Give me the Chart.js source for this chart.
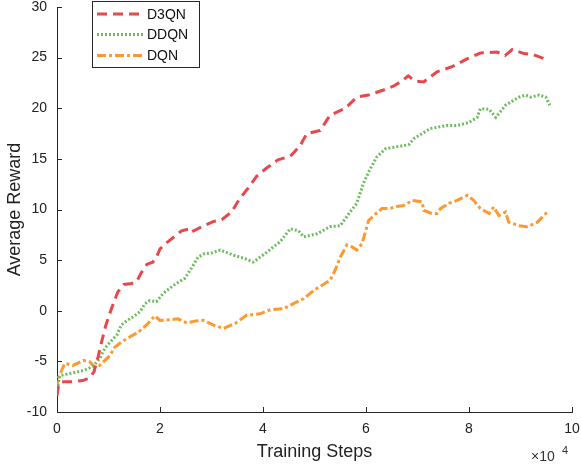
<!DOCTYPE html>
<html>
<head>
<meta charset="utf-8">
<script src="https://cdn.jsdelivr.net/npm/chart.js@4/dist/chart.umd.min.js"></script>
<style>
  html, body { margin: 0; padding: 0; background: #fff; }
  #wrap { width: 581px; height: 465px; }
</style>
</head>
<body>
<div id="wrap"><canvas id="chart1" width="581" height="465"></canvas></div>
<script>
// training steps in units of 1e4, reward
var d3qnX = [0, 0.02, 0.08, 0.3, 0.5, 0.64, 0.72, 0.8, 0.87, 0.95, 1.06, 1.18, 1.3, 1.45, 1.55, 1.63, 1.75, 1.86, 1.93, 2.0,
  2.1, 2.2, 2.42, 2.58, 2.62, 2.81, 3.03, 3.2, 3.39, 3.55, 3.71, 3.88, 4.07, 4.29, 4.49, 4.56, 4.72, 4.85, 5.11, 5.3,
  5.6, 5.82, 6.05, 6.34, 6.54, 6.7, 6.82, 6.95, 7.12, 7.38, 7.67, 7.97, 8.22, 8.55, 8.7, 8.84, 9.07, 9.25, 9.46];
var d3qnY = [-8.4, -7.6, -7.0, -7.0, -6.9, -6.6, -6.0, -4.5, -3.0, -1.4, 0.25, 1.85, 2.6, 2.7, 2.9, 3.7, 4.6, 4.8, 5.3, 6.1,
  6.6, 7.0, 7.9, 8.1, 7.8, 8.3, 8.8, 9.0, 9.75, 11.1, 12.1, 13.3, 14.1, 14.9, 15.2, 15.4, 16.3, 17.5, 17.8, 19.3,
  20.0, 21.1, 21.3, 21.8, 22.2, 22.7, 23.2, 22.7, 22.6, 23.6, 24.1, 24.9, 25.45, 25.55, 25.2, 25.8, 25.4, 25.3, 24.9];

var ddqnX = [0, 0.03, 0.06, 0.25, 0.51, 0.7, 0.83, 0.93, 1.03, 1.16, 1.25, 1.38, 1.48, 1.61, 1.71, 1.8, 1.93, 2.06, 2.26, 2.48,
  2.61, 2.74, 2.87, 3.0, 3.17, 3.42, 3.65, 3.81, 4.04, 4.2, 4.33, 4.53, 4.69, 4.79, 5.05, 5.3, 5.5, 5.69, 5.82, 5.95,
  6.08, 6.21, 6.38, 6.6, 6.83, 6.93, 7.25, 7.58, 7.77, 8.0, 8.16, 8.22, 8.39, 8.52, 8.71, 8.97, 9.1, 9.2, 9.36, 9.49, 9.57];
var ddqnY = [-8.2, -7.0, -6.4, -6.2, -5.9, -5.5, -4.7, -3.7, -3.1, -2.4, -1.4, -0.9, -0.6, -0.1, 0.7, 1.0, 0.9, 1.7, 2.5, 3.2,
  4.2, 5.3, 5.65, 5.7, 6.0, 5.5, 5.15, 4.8, 5.65, 6.3, 6.8, 8.1, 7.9, 7.3, 7.6, 8.3, 8.4, 9.75, 10.6, 12.6,
  14.0, 15.2, 16.0, 16.2, 16.4, 17.0, 18.0, 18.3, 18.3, 18.6, 19.1, 19.95, 19.9, 19.1, 20.3, 21.1, 21.3, 21.1, 21.3, 21.1, 20.3];

var dqnX = [0, 0.02, 0.09, 0.15, 0.31, 0.51, 0.64, 0.73, 0.83, 0.93, 1.03, 1.12, 1.25, 1.41, 1.58, 1.74, 1.9, 2.0, 2.19, 2.35,
  2.52, 2.7, 2.84, 3.03, 3.23, 3.46, 3.68, 3.94, 4.14, 4.4, 4.59, 4.79, 4.98, 5.14, 5.3, 5.4, 5.5, 5.63, 5.73, 5.82,
  5.92, 5.99, 6.05, 6.15, 6.31, 6.47, 6.6, 6.73, 6.9, 7.09, 7.12, 7.28, 7.38, 7.45, 7.61, 7.77, 7.97, 8.09, 8.22, 8.39,
  8.48, 8.58, 8.71, 8.77, 8.97, 9.13, 9.33, 9.52];
var dqnY = [-7.85, -6.7, -5.9, -5.2, -5.4, -4.9, -5.05, -5.55, -5.4, -4.9, -4.4, -3.6, -3.1, -2.6, -2.1, -1.4, -0.5, -0.95, -0.9, -0.8,
  -1.2, -1.0, -0.95, -1.4, -1.75, -1.25, -0.45, -0.3, 0.1, 0.2, 0.7, 1.2, 2.0, 2.5, 3.0, 4.0, 5.3, 6.5, 6.3, 6.0,
  6.6, 7.8, 8.9, 9.4, 10.1, 10.1, 10.3, 10.4, 10.9, 10.75, 9.9, 9.6, 9.6, 10.1, 10.6, 10.9, 11.4, 10.9, 10.1, 9.6,
  10.25, 9.4, 9.75, 8.75, 8.4, 8.3, 8.75, 9.75];

var seriesNames = ['D3QN', 'DDQN', 'DQN'];
var xTicks = [0, 2, 4, 6, 8, 10];
var yTicks = [-10, -5, 0, 5, 10, 15, 20, 25, 30];

function zip(xs, ys) {
  return xs.map(function (x, i) { return { x: x, y: ys[i] }; });
}

var axisColor = '#262626';
var fontFam = '"Liberation Sans", Arial, Helvetica, sans-serif';

// inward tick marks, legend box and the x10^4 note
var decor = {
  id: 'decor',
  afterDraw: function (chart) {
    var ctx = chart.ctx, xs = chart.scales.x, ys = chart.scales.y, a = chart.chartArea;
    ctx.save();
    ctx.strokeStyle = axisColor;
    ctx.lineWidth = 1;
    ctx.beginPath();
    xTicks.forEach(function (v) {
      var p = Math.round(xs.getPixelForValue(v)) + 0.5;
      ctx.moveTo(p, a.bottom); ctx.lineTo(p, a.bottom - 5);
    });
    yTicks.forEach(function (v) {
      var p = Math.round(ys.getPixelForValue(v)) + 0.5;
      ctx.moveTo(a.left, p); ctx.lineTo(a.left + 5, p);
    });
    ctx.stroke();

    // legend
    ctx.fillStyle = '#fff';
    ctx.fillRect(92, 1, 107, 66);
    ctx.strokeStyle = axisColor;
    ctx.strokeRect(92.5, 1.5, 107, 66);
    var rows = [14, 34.5, 55.5];
    chart.data.datasets.forEach(function (ds, i) {
      ctx.save();
      ctx.strokeStyle = ds.borderColor;
      ctx.lineWidth = ds.borderWidth;
      ctx.setLineDash(ds.borderDash);
      ctx.beginPath();
      ctx.moveTo(97, rows[i]); ctx.lineTo(143, rows[i]);
      ctx.stroke();
      ctx.restore();
      ctx.fillStyle = '#111';
      ctx.font = '14px ' + fontFam;
      ctx.textBaseline = 'middle';
      ctx.textAlign = 'left';
      ctx.fillText(ds.label, 147, rows[i] + 1);
    });

    ctx.fillStyle = '#333';
    ctx.font = '14px ' + fontFam;
    ctx.textBaseline = 'alphabetic';
    ctx.fillText('\u00d710', 531, 461);
    ctx.font = '11px ' + fontFam;
    ctx.fillText('4', 562, 454);
    ctx.restore();
  }
};

var ctx = document.getElementById('chart1').getContext('2d');
var rewardChart = new Chart(ctx, {
  type: 'line',
  data: {
    datasets: [{
      label: seriesNames[0],
      data: zip(d3qnX, d3qnY),
      borderColor: '#e8474b',
      borderWidth: 3,
      borderDash: [10, 6]
    }, {
      label: seriesNames[1],
      data: zip(ddqnX, ddqnY),
      borderColor: '#6dbd5e',
      borderWidth: 3,
      borderDash: [2, 2]
    }, {
      label: seriesNames[2],
      data: zip(dqnX, dqnY),
      borderColor: '#ff982e',
      borderWidth: 3,
      borderDash: [9, 3, 3, 3]
    }]
  },
  options: {
    responsive: false,
    animation: false,
    events: [],
    parsing: true,
    elements: { point: { radius: 0 }, line: { tension: 0, fill: false, borderCapStyle: 'butt' } },
    layout: { padding: { top: 7, right: 9, left: 0, bottom: 0 } },
    plugins: { legend: { display: false }, tooltip: { enabled: false } },
    scales: {
      x: {
        type: 'linear',
        min: 0, max: 10,
        grid: { display: false, drawTicks: false },
        border: { display: true, color: axisColor, width: 1 },
        ticks: { stepSize: 2, padding: 9, color: '#222', font: { family: fontFam, size: 14 }, maxRotation: 0 },
        title: { display: true, text: 'Training Steps', color: '#222', font: { family: fontFam, size: 18 }, padding: { top: 0, bottom: 2 } },
        afterFit: function (s) { s.height = 53; s.paddingLeft = 0; s.paddingRight = 0; }
      },
      y: {
        min: -10, max: 30,
        grid: { display: false, drawTicks: false },
        border: { display: true, color: axisColor, width: 1 },
        ticks: { stepSize: 5, padding: 10, color: '#222', font: { family: fontFam, size: 14 } },
        title: { display: true, text: 'Average Reward', color: '#222', font: { family: fontFam, size: 18 }, padding: { top: 4, bottom: 0 } },
        afterFit: function (s) { s.width = 57; s.paddingTop = 0; s.paddingBottom = 0; }
      }
    }
  },
  plugins: [decor]
});
</script>
</body>
</html>
